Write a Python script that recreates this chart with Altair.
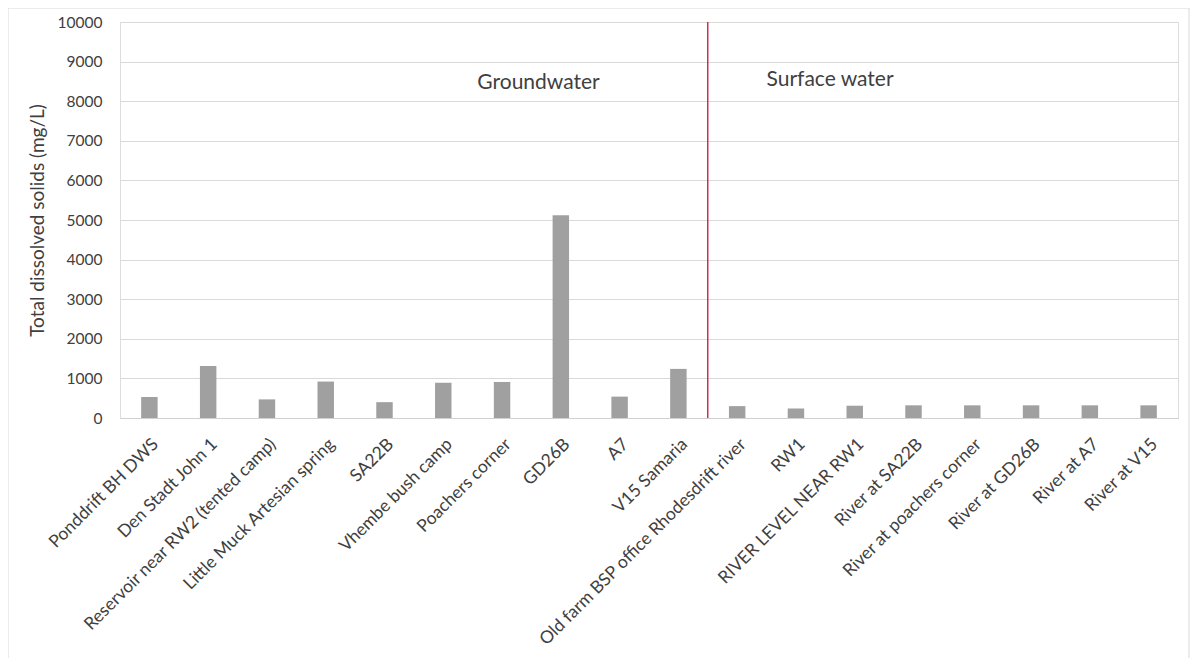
import altair as alt
import pandas as pd

categories = [
    "Ponddrift BH DWS", "Den Stadt John 1", "Reservoir near RW2 (tented camp)",
    "Little Muck Artesian spring", "SA22B", "Vhembe bush camp", "Poachers corner",
    "GD26B", "A7", "V15 Samaria", "Old farm BSP office Rhodesdrift river", "RW1",
    "RIVER LEVEL NEAR RW1", "River at SA22B", "River at poachers corner",
    "River at GD26B", "River at A7", "River at V15",
]
tds = [530, 1310, 470, 920, 400, 890, 910, 5120, 540, 1240,
       300, 240, 310, 320, 320, 320, 320, 320]

region_sites = ["Poachers corner", "RW1"]
region_text = ["Groundwater", "Surface water"]
region_y = [8450, 8530]

df = pd.DataFrame({"site": categories, "tds": tds})

FONT = "Lato"
TXT = "#404040"
xscale = alt.Scale(domain=categories, paddingInner=0, paddingOuter=0)
yscale = alt.Scale(domain=[0, 10000])

x_axis = alt.Axis(title=None, labelAngle=-45, labelFontSize=17.5, labelFont=FONT,
                  labelColor=TXT, ticks=False, domainColor="#d0d0d0",
                  labelPadding=17, labelLimit=500, grid=False, labelOverlap=False)
y_axis = alt.Axis(title="Total dissolved solids (mg/L)", values=list(range(0, 10001, 1000)),
                  format="d", labelOverlap=False,
                  titleFont=FONT, titleFontSize=19, titleFontWeight="normal",
                  titleColor=TXT, labelFont=FONT, labelFontSize=15.5,
                  labelColor=TXT, ticks=False, labelPadding=18,
                  domain=False, gridColor="#d9d9d9", titlePadding=10)

bars = alt.Chart(df).mark_bar(color="#a0a0a0", width=alt.RelativeBandSize(0.28)).encode(
    x=alt.X("site:N", sort=None, scale=xscale, axis=x_axis),
    y=alt.Y("tds:Q", scale=yscale, axis=y_axis),
)

divider = alt.Chart(pd.DataFrame({"site": ["Old farm BSP office Rhodesdrift river"]})).mark_rule(
    color="#c8103c", strokeWidth=1.3
).encode(x=alt.X("site:N", sort=None, scale=xscale, bandPosition=0, axis=x_axis),
         y=alt.value(0), y2=alt.value(396))

labels = pd.DataFrame({"site": region_sites, "tds": region_y, "text": region_text})
gw = alt.Chart(labels.iloc[[0]]).mark_text(align="left", baseline="middle", font=FONT,
                                           fontSize=21, color=TXT).encode(
    x=alt.X("site:N", sort=None, scale=xscale, bandPosition=0.08, axis=x_axis),
    y=alt.Y("tds:Q", scale=yscale, axis=y_axis), text="text:N")
sw = alt.Chart(labels.iloc[[1]]).mark_text(align="left", baseline="middle", font=FONT,
                                           fontSize=21, color=TXT).encode(
    x=alt.X("site:N", sort=None, scale=xscale, bandPosition=0.0, axis=x_axis),
    y=alt.Y("tds:Q", scale=yscale, axis=y_axis), text="text:N")

frame = alt.Chart(pd.DataFrame({"a": [0]})).mark_rect(
    fill=None, stroke="#d9d9d9", strokeWidth=1
).encode(x=alt.value(-112), x2=alt.value(1069), y=alt.value(-14), y2=alt.value(637))

chart = alt.layer(bars, divider, gw, sw, frame).properties(
    width=1058, height=396,
    autosize=alt.AutoSizeParams(type="none"),
    padding={"left": 112, "top": 14, "right": 12, "bottom": 240},
).configure_view(stroke="#d0d0d0").configure(background="white")

chart.save("out.html", embed_options={"renderer": "svg", "actions": False})
